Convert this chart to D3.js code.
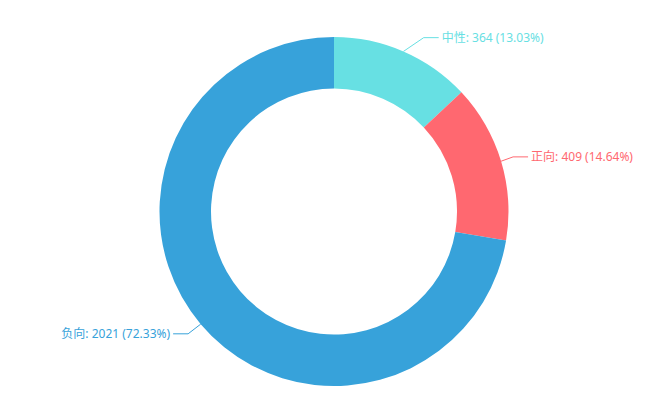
<!DOCTYPE html>
<html>
<head>
<meta charset="utf-8">
<script src="https://cdn.jsdelivr.net/npm/d3@7/dist/d3.min.js"></script>
<style>
  html, body { margin: 0; padding: 0; background: #fff; }
  #chart { width: 647px; height: 397px; }
</style>
</head>
<body>
<div id="chart"></div>
<script>
// data
const categories = ['中性', '正向', '负向'];
const values = [364, 409, 2021];
const colors = ['#67e0e3', '#ff6870', '#37a2da'];

const width = 647, height = 397;
const cx = 334, cy = 211.5;
const outerR = 174.5, innerR = 123;
const len = 15, len2 = 15;

const svg = d3.select('#chart').append('svg')
    .attr('width', width)
    .attr('height', height)
    .style('font-family', '"Noto Sans", "Noto Sans CJK SC", sans-serif');

const total = d3.sum(values);
const items = categories.map((c, i) => ({ name: c, value: values[i], color: colors[i] }));

const pie = d3.pie().sort(null).value(d => d.value).startAngle(0).endAngle(2 * Math.PI);
const arcs = pie(items);

const arc = d3.arc().innerRadius(innerR).outerRadius(outerR);

const g = svg.append('g').attr('transform', `translate(${cx},${cy})`);

g.selectAll('path.slice')
    .data(arcs)
    .enter().append('path')
    .attr('class', 'slice')
    .attr('d', arc)
    .attr('fill', d => d.data.color);

// label layout (radial elbow, then x aligned on circle r+len+len2)
const layouts = arcs.map(d => {
    const mid = (d.startAngle + d.endAngle) / 2;
    const dx = Math.sin(mid), dy = -Math.cos(mid);
    const dir = dx < 0 ? -1 : 1;
    const p1 = [outerR * dx, outerR * dy];
    const y = (outerR + len) * dy;
    const R = outerR + len + len2;
    const deltaX = Math.sqrt(R * R - y * y);
    const lx = deltaX * dir;
    const end = lx - 3 * dir;
    const elbow = end - len2 * dir;
    return { d, dir, points: [p1, [elbow, y], [end, y]], lx, y };
});

g.selectAll('polyline.label-line')
    .data(layouts)
    .enter().append('polyline')
    .attr('class', 'label-line')
    .attr('points', l => l.points.map(p => p.join(',')).join(' '))
    .attr('fill', 'none')
    .attr('stroke', l => l.d.data.color)
    .attr('stroke-width', 1);

g.selectAll('text.label')
    .data(layouts)
    .enter().append('text')
    .attr('class', 'label')
    .attr('x', l => l.lx)
    .attr('y', l => l.y)
    .attr('dy', '0.35em')
    .attr('text-anchor', l => l.dir < 0 ? 'end' : 'start')
    .attr('fill', l => l.d.data.color)
    .style('font-size', '12px')
    .text(l => `${l.d.data.name}: ${l.d.data.value} (${(l.d.data.value / total * 100).toFixed(2)}%)`);
</script>
</body>
</html>
